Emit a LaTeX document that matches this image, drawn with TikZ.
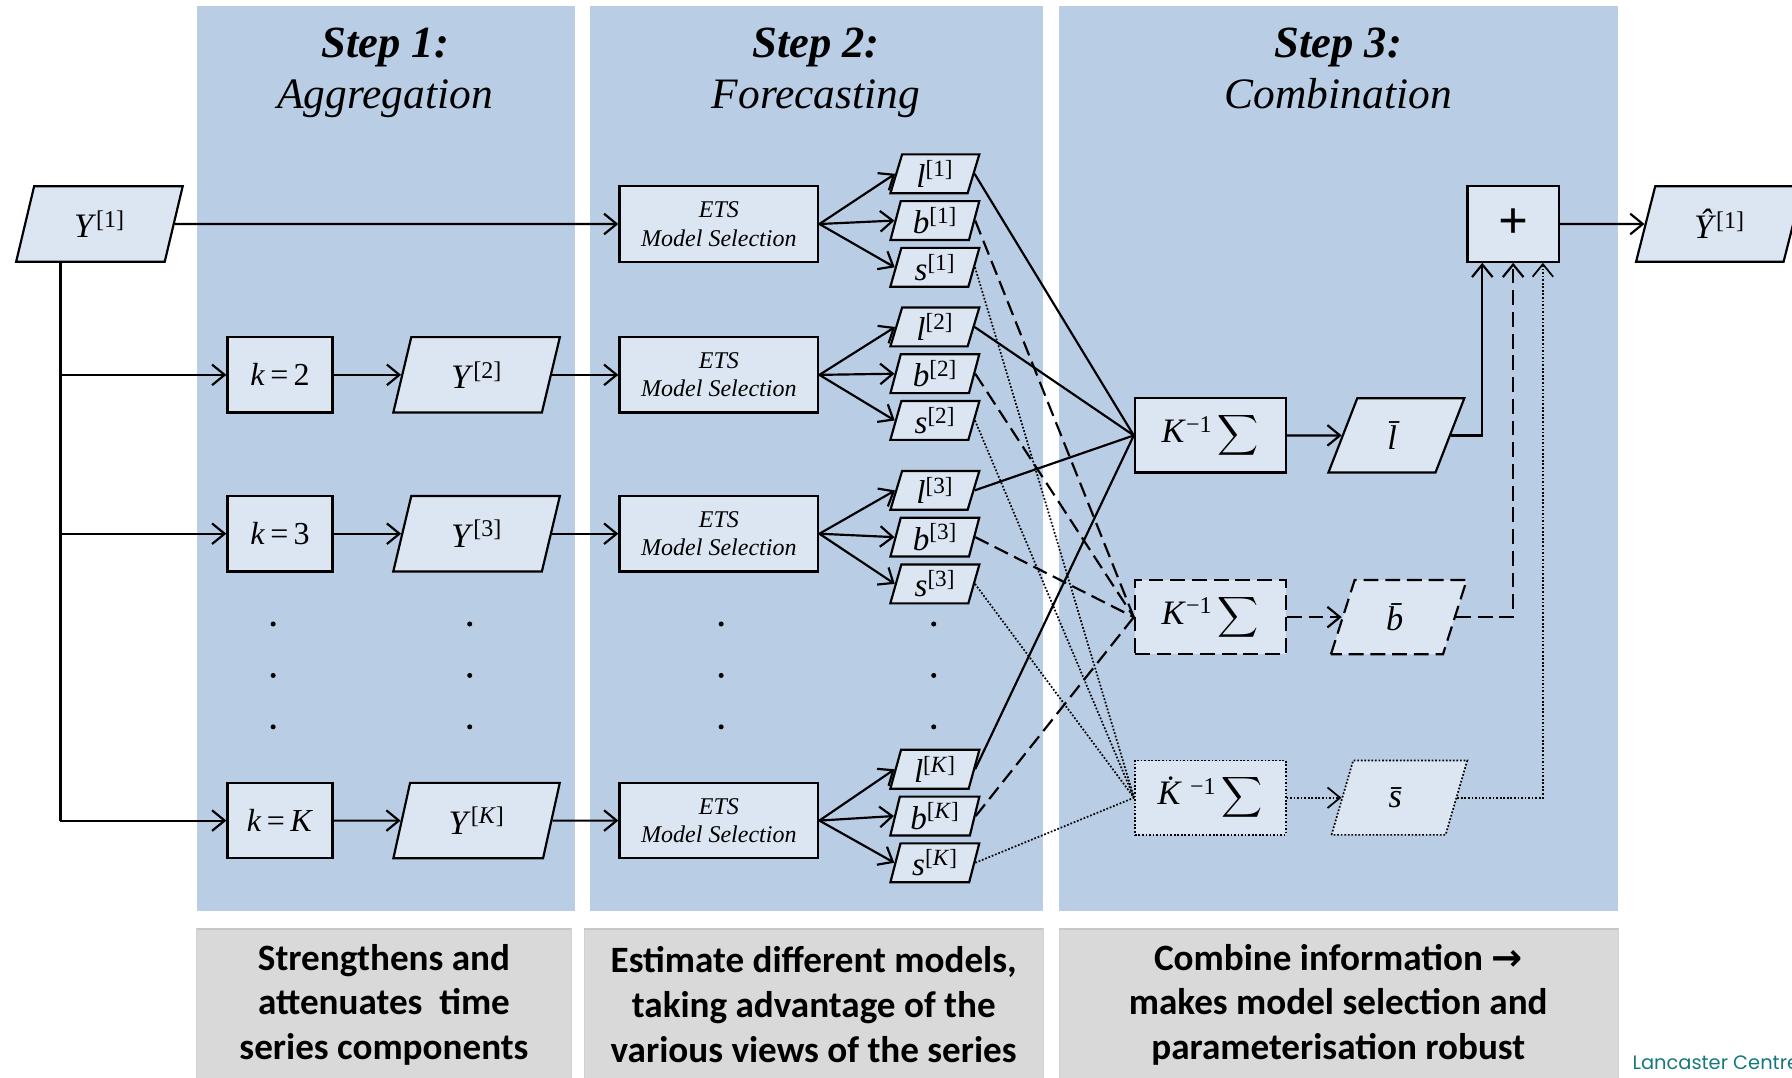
\documentclass[tikz,border=0pt]{standalone}
\usepackage{exscale}
\usepackage{fontspec}
\setmainfont{Liberation Serif}
\newfontfamily\calibri{Carlito}
\newfontfamily\arrowfont{DejaVu Sans}
\newfontfamily\logofont{Poppins}
\usetikzlibrary{positioning,shapes.geometric,arrows.meta}

\definecolor{panelblue}{HTML}{B9CDE5}
\definecolor{boxblue}{HTML}{DCE6F2}
\definecolor{notegray}{HTML}{D9D9D9}
\definecolor{logoteal}{HTML}{16787C}

\newcommand{\tsvar}[2]{\textit{#1}\textsuperscript{[#2]}}
\newcommand{\ksum}[1]{\textit{#1}\textsuperscript{−1}\,$\displaystyle\sum$}

\tikzset{
  link/.style={line width=1.9pt},
  dashedline/.style={line width=1.9pt,dash pattern=on 13pt off 6pt},
  dottedline/.style={line width=1.5pt,dash pattern=on 1.5pt off 1.6pt},
  box/.style={draw,fill=boxblue,line width=1.9pt,inner sep=1pt},
  para/.style={box,trapezium,trapezium left angle=76,trapezium right angle=104,trapezium stretches=true},
  kbox/.style={box,minimum width=92pt,minimum height=66pt,font=\fontsize{28}{30}\selectfont},
  series/.style={para,minimum width=146pt,minimum height=66pt,font=\fontsize{30}{32}\selectfont},
  ets/.style={box,minimum width=174pt,minimum height=66pt,align=center,font=\itshape\fontsize{21}{25}\selectfont},
  comp/.style={para,minimum width=78pt,minimum height=34pt,inner sep=0pt,font=\fontsize{29}{29}\selectfont},
  sumbox/.style={box,minimum width=132pt,minimum height=65pt,font=\fontsize{30}{34}\selectfont},
  avg/.style={para,minimum width=119pt,minimum height=65pt,font=\fontsize{30}{32}\selectfont},
  headstep/.style={anchor=base,font=\bfseries\itshape\fontsize{39}{42}\selectfont},
  headname/.style={anchor=base,font=\itshape\fontsize{38}{42}\selectfont},
  note/.style={fill=notegray,draw=black!18,line width=0.8pt},
  notetext/.style={align=center,font=\calibri\bfseries\fontsize{32.5}{39}\selectfont}
}

\begin{document}
\begin{tikzpicture}[x=1pt,y=-1pt,>={Straight Barb[length=11pt,width=18pt]}]
\useasboundingbox (0,0) rectangle (1568,943);
% panels
\fill[panelblue] (172,5) rectangle (503,797);
\fill[panelblue] (516,5) rectangle (913,797);
\fill[panelblue] (927,5) rectangle (1416,797);
\draw[note] (172,812) rectangle (500,960);
\draw[note] (511,812) rectangle (913,960);
\draw[note] (927,812) rectangle (1416,960);
\draw[line width=2pt,black!22] (172,813) -- (500,813) (511,813) -- (913,813) (927,813) -- (1416,813);

\node[headstep] (step1) at (337,50) {Step 1:};
\node[headname] (name1) at (337,95) {Aggregation};
\node[headstep] (step2) at (714,50) {Step 2:};
\node[headname] (name2) at (714,95) {Forecasting};
\node[headstep] (step3) at (1171,50) {Step 3:};
\node[headname] (name3) at (1171,95) {Combination};

\node[notetext] (note1) at (336,879) {Strengthens and\\attenuates~ time\\series components};
\node[notetext] (note2) at (712,879) {Estimate different models,\\taking advantage of the\\various views of the series};
\node[notetext] (note3) at (1171,879) {Combine information {\arrowfont\bfseries →}\\makes model selection and\\parameterisation robust};

% step 1
\node[series] (y1) at (87,196) {\tsvar{Y}{1}};
\node[kbox] (k2) at (245,328) {\textit{k}\,=\,2};
\node[series] (y2) at (417,328) {\tsvar{Y}{2}};
\node[kbox] (k3) at (245,467) {\textit{k}\,=\,3};
\node[series] (y3) at (417,467) {\tsvar{Y}{3}};
\node[kbox] (kK) at (245,718) {\textit{k}\,=\,\textit{K}};
\node[series] (yK) at (417,718) {\tsvar{Y}{\textit{K}}};

% step 2
\node[ets] (ets1) at (629,196) {ETS\\Model Selection};
\node[ets] (ets2) at (629,328) {ETS\\Model Selection};
\node[ets] (ets3) at (629,467) {ETS\\Model Selection};
\node[ets] (etsK) at (629,718) {ETS\\Model Selection};

\node[comp] (b1) at (818,193) {\tsvar{b}{1}};
\node[comp,above=5pt of b1] (l1) {\tsvar{l}{1}};
\node[comp,below=5pt of b1] (s1) {\tsvar{s}{1}};
\node[comp] (b2) at (818,327) {\tsvar{b}{2}};
\node[comp,above=5pt of b2] (l2) {\tsvar{l}{2}};
\node[comp,below=5pt of b2] (s2) {\tsvar{s}{2}};
\node[comp] (b3) at (818,470) {\tsvar{b}{3}};
\node[comp,above=5pt of b3] (l3) {\tsvar{l}{3}};
\node[comp,below=5pt of b3] (s3) {\tsvar{s}{3}};
\node[comp] (bK) at (818,714) {\tsvar{b}{\textit{K}}};
\node[comp,above=5pt of bK] (lK) {\tsvar{l}{\textit{K}}};
\node[comp,below=5pt of bK] (sK) {\tsvar{s}{\textit{K}}};

\fill (239,546) circle (2.2pt) (239,591) circle (2.2pt) (239,636) circle (2.2pt)
      (411,546) circle (2.2pt) (411,591) circle (2.2pt) (411,636) circle (2.2pt)
      (631,546) circle (2.2pt) (631,591) circle (2.2pt) (631,636) circle (2.2pt)
      (817,546) circle (2.2pt) (817,591) circle (2.2pt) (817,636) circle (2.2pt);

% step 3
\node[sumbox] (suml) at (1059,381) {\ksum{K}};
\node[sumbox,dashedline] (sumb) at (1059,540) {\ksum{K}};
\node[sumbox,dottedline] (sums) at (1059,698) {\ksum{\.{K}}};
\node[avg,right=48pt of suml] (lbar) {\textit{\={l}}};
\node[avg,dashedline,right=48pt of sumb] (bbar) {\textit{\={b}}};
\node[avg,dottedline,right=48pt of sums] (sbar) {\textit{\={s}}};
\node[box,minimum width=80pt,minimum height=66pt,font=\bfseries\fontsize{46}{46}\selectfont] (plus) at (1324,196) {+};
\node[series,right=74pt of plus] (yhat) {\tsvar{\^{Y}}{1}};

\node[anchor=west,text=logoteal,font=\logofont\fontsize{17}{17}\selectfont] (logo) at (1425,930) {Lancaster Centre};

% connectors
\coordinate (trunk) at ([xshift=40pt]y1.bottom left corner);
\draw[link] (trunk) -- (trunk |- kK);
\draw[->,link] (trunk |- k2) -- (k2);
\draw[->,link] (trunk |- k3) -- (k3);
\draw[->,link] (trunk |- kK) -- (kK);
\draw[->,link] (k2) -- (y2);
\draw[->,link] (k3) -- (y3);
\draw[->,link] (kK) -- (yK);
\draw[->,link] (y1) -- (ets1);
\draw[->,link] (y2) -- (ets2);
\draw[->,link] (y3) -- (ets3);
\draw[->,link] (yK) -- (etsK);

\draw[->,link] (ets1.east) -- (l1.west);
\draw[->,link] (ets1.east) -- (b1.west);
\draw[->,link] (ets1.east) -- (s1.west);
\draw[->,link] (ets2.east) -- (l2.west);
\draw[->,link] (ets2.east) -- (b2.west);
\draw[->,link] (ets2.east) -- (s2.west);
\draw[->,link] (ets3.east) -- (l3.west);
\draw[->,link] (ets3.east) -- (b3.west);
\draw[->,link] (ets3.east) -- (s3.west);
\draw[->,link] (etsK.east) -- (lK.west);
\draw[->,link] (etsK.east) -- (bK.west);
\draw[->,link] (etsK.east) -- (sK.west);

\draw[link] (l1.east) -- (suml.west);
\draw[link] (l2.east) -- (suml.west);
\draw[link] (l3.east) -- (suml.west);
\draw[link] (lK.east) -- (suml.west);
\draw[dashedline] (b1.east) -- (sumb.west);
\draw[dashedline] (b2.east) -- (sumb.west);
\draw[dashedline] (b3.east) -- (sumb.west);
\draw[dashedline] (bK.east) -- (sumb.west);
\draw[dottedline] (s1.east) -- (sums.west);
\draw[dottedline] (s2.east) -- (sums.west);
\draw[dottedline] (s3.east) -- (sums.west);
\draw[dottedline] (sK.east) -- (sums.west);

\draw[->,link] (suml) -- (lbar);
\draw[->,dashedline] (sumb) -- (bbar);
\draw[->,dottedline] (sums) -- (sbar);
\draw[->,link] (lbar.east) -| ([xshift=-27pt]plus.south);
\draw[->,dashedline] (bbar.east) -| (plus.south);
\draw[->,dottedline] (sbar.east) -| ([xshift=26pt]plus.south);
\draw[->,link] (plus) -- (yhat);
\end{tikzpicture}
\end{document}
